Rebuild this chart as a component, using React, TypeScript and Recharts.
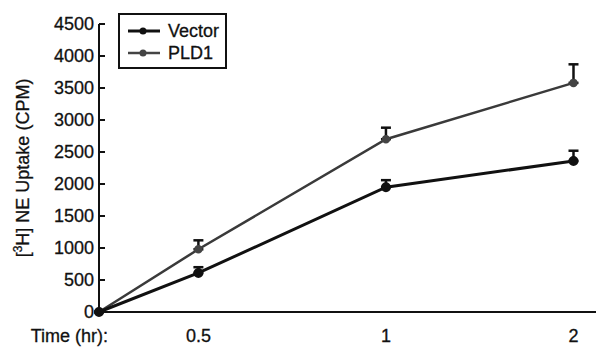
// App.tsx
import React from "react"
import { LineChart, Line, XAxis, YAxis, ErrorBar, Label } from "recharts"

// time points (hr) and where each sits along the x axis (0 sits half a step in)
const times = ["0", "0.5", "1", "2"]
const timeSlot = [0, 0.53, 1.53, 2.53]

const vector = [0, 610, 1950, 2360]
const vectorErr = [0, 90, 110, 160]
const pld1 = [0, 980, 2700, 3580]
const pld1Err = [0, 140, 180, 290]

const yTicks = [0, 500, 1000, 1500, 2000, 2500, 3000, 3500, 4000, 4500]
const xTicks = [0, 0.53, 1.53, 2.53]
const xTickLabels = ["Time (hr):", "0.5", "1", "2"]

const data = times.map((t, i) => ({
  t,
  slot: timeSlot[i],
  Vector: vector[i],
  vErr: [0, vectorErr[i]],
  PLD1: pld1[i],
  pErr: [0, pld1Err[i]],
}))

const FONT = "'Liberation Sans', Arial, sans-serif"
const INK = "#111"

const YTick = ({ x, y, payload }: any) => (
  <g>
    <line x1={x} y1={y} x2={x + 6} y2={y} stroke={INK} strokeWidth={2} />
    <text x={x - 5} y={y} dy={6} textAnchor="end" fontSize={18} fontFamily={FONT} fill={INK} stroke={INK} strokeWidth={0.3}>
      {payload.value}
    </text>
  </g>
)

const XTick = ({ x, y, payload, index }: any) => {
  const first = index === 0
  return (
    <text
      x={first ? x + 9 : x}
      y={y + 22}
      textAnchor={first ? "end" : "middle"}
      fontSize={18}
      fontFamily={FONT}
      fill={INK}
      stroke={INK}
      strokeWidth={0.3}
    >
      {xTickLabels[xTicks.indexOf(payload.value)]}
    </text>
  )
}

const YLabel = ({ viewBox }: any) => {
  const cx = 29
  const cy = viewBox.y + viewBox.height / 2
  return (
    <text
      x={cx}
      y={cy}
      transform={`rotate(-90 ${cx} ${cy})`}
      textAnchor="middle"
      fontSize={18}
      fontFamily={FONT}
      fill={INK}
      stroke={INK}
      strokeWidth={0.3}
    >
      [<tspan baselineShift="super" fontSize={12}>3</tspan>H] NE Uptake (CPM)
    </text>
  )
}

const legendItems = [
  { label: "Vector", w: 3, c: "#111" },
  { label: "PLD1", w: 2.5, c: "#444" },
]

const LegendBox = () => (
  <div
    style={{
      position: "absolute",
      left: 118,
      top: 13,
      border: `2px solid ${INK}`,
      width: 109,
      height: 56,
      boxSizing: "border-box",
      fontFamily: FONT,
      fontSize: 18,
      color: INK,
      WebkitTextStroke: "0.3px #111",
      padding: "5px 0 0 6px",
      background: "#fff",
    }}
  >
    {legendItems.map((it) => (
      <div key={it.label} style={{ display: "flex", alignItems: "center", height: 22 }}>
        <svg width={38} height={12} style={{ marginRight: 4 }}>
          <line x1={2} y1={6} x2={34} y2={6} stroke={it.c} strokeWidth={it.w} />
          <circle cx={17} cy={6} r={3.5} fill={it.c} />
        </svg>
        <span>{it.label}</span>
      </div>
    ))}
  </div>
)

export default function App() {
  return (
    <div style={{ position: "absolute", left: 0, top: 0, width: 596, height: 349, background: "#fff" }}>
      <LineChart width={596} height={349} data={data} margin={{ top: 24, right: 0, bottom: 0, left: 0 }}>
        <XAxis
          dataKey="slot"
          type="number"
          domain={[0, 2.65]}
          ticks={xTicks}
          tick={<XTick />}
          tickLine={false}
          stroke={INK}
          strokeWidth={2}
          height={37}
          interval={0}
        />
        <YAxis
          type="number"
          domain={[0, 4500]}
          ticks={yTicks}
          tick={<YTick />}
          tickLine={false}
          tickSize={0}
          tickMargin={0}
          stroke={INK}
          strokeWidth={2}
          width={99}
          interval={0}
        >
          <Label content={<YLabel />} />
        </YAxis>
        <Line
          dataKey="PLD1"
          stroke="#3a3a3a"
          strokeWidth={2.5}
          dot={{ r: 3, fill: "#444", stroke: "#444" }}
          isAnimationActive={false}
        >
          <ErrorBar dataKey="pErr" direction="y" width={5} stroke={INK} strokeWidth={2.5} />
        </Line>
        <Line
          dataKey="Vector"
          stroke="#111"
          strokeWidth={3}
          dot={{ r: 3.5, fill: "#111", stroke: "#111" }}
          isAnimationActive={false}
        >
          <ErrorBar dataKey="vErr" direction="y" width={5} stroke={INK} strokeWidth={2.5} />
        </Line>
      </LineChart>
      <LegendBox />
    </div>
  )
}
